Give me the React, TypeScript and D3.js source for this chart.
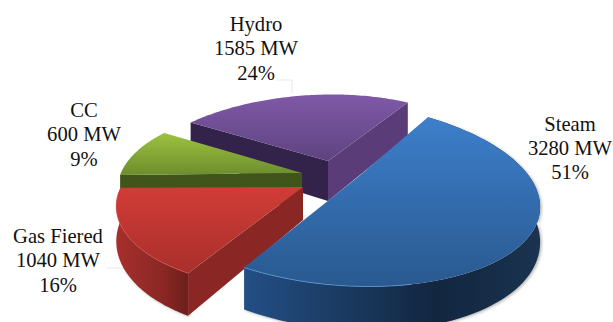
import * as d3 from "d3";

// Installed capacity by plant type, clockwise from the steam slice
const categories = ["Steam", "Gas Fiered", "CC", "Hydro"];
const capacityMW = [3280, 1040, 600, 1585];
const shareLabels = ["51%", "16%", "9%", "24%"];

const WIDTH = 613;
const HEIGHT = 322;
const START_DEG = 27.6;
// Perspective terms shared by every slice of the tilted disc
const PERSPECTIVE_V = 0.2;
const PERSPECTIVE_U = 0.08;

type Look = {
  apex: [number, number]; rotate: number; rx: number; ry: number; shear: number; extraDepth: number;
  top: [string, string]; wall: string[] | null;
  startFace: string; endFace: string; rim: string; rimMaxX: number;
};

const looks: Record<string, Look> = {
  Steam: { apex: [358, 177], rotate: -1.5, rx: 193, ry: 87.5, shear: 13.9, extraDepth: 0, top: ["#3d7fcb", "#29598f"], wall: ["#234f85", "#12263f", "#1a3350"], startFace: "none", endFace: "none", rim: "#5b9ad8", rimMaxX: 420 },
  "Gas Fiered": { apex: [303, 187], rotate: 3.5, rx: 168, ry: 80, shear: -1, extraDepth: 0, top: ["#d13c37", "#a92f2b"], wall: ["#a72f2c", "#8a2724", "#6c1f1b"], startFace: "#8a2724", endFace: "none", rim: "#d9534c", rimMaxX: 400 },
  CC: { apex: [302, 173], rotate: 1, rx: 166, ry: 78.4, shear: 1.4, extraDepth: 0, top: ["#9cc23f", "#6d8d2d"], wall: null, startFace: "#41541a", endFace: "none", rim: "none", rimMaxX: 0 },
  Hydro: { apex: [328, 161], rotate: 5.5, rx: 177, ry: 79.8, shear: -7.2, extraDepth: 10, top: ["#7f59a8", "#5e437f"], wall: null, startFace: "#33234a", endFace: "#5a3d78", rim: "none", rimMaxX: 0 },
};

// Label blocks: centre x and first baseline
const labelPos: Record<string, [number, number]> = {
  Steam: [570, 130.5],
  "Gas Fiered": [58, 243],
  CC: [84, 117],
  Hydro: [256, 31],
};

const PAINT_ORDER = ["Hydro", "CC", "Gas Fiered", "Steam"];
const toRad = Math.PI / 180;

// Homography of a ground-plane rim point onto the page for one slice
function project(look: Look, theta: number): [number, number] {
  const u = Math.sin(theta);
  const v = Math.cos(theta);
  const s = 1 / (1 + PERSPECTIVE_V * v + PERSPECTIVE_U * u);
  return [
    look.apex[0] + look.rx * u * s,
    look.apex[1] + (-look.ry * v + look.shear * u) * s,
  ];
}

const drop = (p: [number, number], amount: number): [number, number] => [p[0], p[1] + amount];
const depthScale = d3.scaleLinear().domain([187, 267]).range([33, 42]);

const pie = d3.pie<number>().sort(null).startAngle(START_DEG * toRad).endAngle((START_DEG + 360) * toRad);
const line = d3.line<[number, number]>();

export default function App() {
  const arcs = pie(capacityMW);
  const slices = categories.map((name, i) => {
    const look = looks[name];
    const a0 = arcs[i].startAngle + look.rotate * toRad;
    const a1 = arcs[i].endAngle + look.rotate * toRad;
    const steps = d3.range(0, 81).map((t) => a0 + ((a1 - a0) * t) / 80);
    const rim = steps.map((a) => project(look, a));
    const depth = (y: number) => depthScale(y) + look.extraDepth;
    const lower = rim.map((p) => drop(p, depth(p[1])));
    const apexLow = drop(look.apex, depth(look.apex[1]));
    const xs = d3.extent(rim, (p) => p[0]) as [number, number];
    const ys = d3.extent(rim.concat([look.apex]), (p) => p[1]) as [number, number];
    return { name, look, rim, lower, apexLow, xs, ys, i, depth };
  });
  const byName = (n: string) => slices.find((s) => s.name === n)!;
  const steam = byName("Steam");
  const chordAt = d3.interpolateArray(steam.rim[0], steam.rim[steam.rim.length - 1]) as unknown as (t: number) => [number, number];

  return (
    <svg width={WIDTH} height={HEIGHT} style={{ position: "absolute", left: 0, top: 0, background: "#fff" }} fontFamily="'Liberation Serif', serif">
      <defs>
        <filter id="soft" x="-10%" y="-10%" width="120%" height="120%">
          <feGaussianBlur stdDeviation="1.6" />
        </filter>
        {slices.map((s) => (
          <g key={s.name}>
            <linearGradient id={`top${s.i}`} gradientUnits="userSpaceOnUse" x1={0} x2={0} y1={s.ys[0]} y2={s.ys[1]}>
              <stop offset="0" stopColor={s.look.top[0]} />
              <stop offset="1" stopColor={s.look.top[1]} />
            </linearGradient>
            {s.look.wall && (
              <linearGradient id={`wall${s.i}`} gradientUnits="userSpaceOnUse" x1={s.xs[0]} x2={s.xs[1]} y1={0} y2={0}>
                <stop offset="0" stopColor={s.look.wall[0]} />
                <stop offset="0.65" stopColor={s.look.wall[1]} />
                <stop offset="1" stopColor={s.look.wall[2]} />
              </linearGradient>
            )}
          </g>
        ))}
      </defs>

      {/* Faint leader lines from labels to slices */}
      <path d="M277 80H292V93" fill="none" stroke="#e8e8e8" strokeWidth={1} />
      <path d="M106 268H130" fill="none" stroke="#e8e8e8" strokeWidth={1} />

      {PAINT_ORDER.map((n) => {
        const s = byName(n);
        const first = s.rim[0];
        const last = s.rim[s.rim.length - 1];
        const wallPath = line(s.rim.concat(s.lower.slice().reverse()))! + "Z";
        const highlight = s.rim.filter((p) => p[1] > s.look.apex[1] + 5 && p[0] < s.look.rimMaxX);
        return (
          <g key={n}>
            {s.look.wall && (
              <path d={wallPath} fill="#777" opacity={0.55} filter="url(#soft)" transform="translate(1.5,1)" />
            )}
            {s.look.endFace !== "none" && (
              <path d={line([s.look.apex, last, drop(last, s.depth(last[1])), s.apexLow])! + "Z"} fill={s.look.endFace} />
            )}
            {s.look.startFace !== "none" && (
              <path d={line([s.look.apex, first, drop(first, s.depth(first[1])), s.apexLow])! + "Z"} fill={s.look.startFace} />
            )}
            {s.look.wall && <path d={wallPath} fill={`url(#wall${s.i})`} />}
            <path d={line([s.look.apex, ...s.rim])! + "Z"} fill={`url(#top${s.i})`} />
            {s.look.rim !== "none" && (
              <path d={line(highlight)!} fill="none" stroke={s.look.rim} strokeWidth={1} opacity={0.75} />
            )}
          </g>
        );
      })}

      {/* Light seam where the steam slice meets the hydro wall */}
      <path d={line([chordAt(0.13), chordAt(0.53)])!} fill="none" stroke="#b5b5b5" strokeWidth={1.2} />

      {categories.map((name, i) => {
        const [x, y] = labelPos[name];
        return (
          <text key={name} x={x} y={y} textAnchor="middle" fontSize={20.6} fill="#111">
            <tspan x={x}>{name}</tspan>
            <tspan x={x} dy={24.4}>{`${capacityMW[i]} MW`}</tspan>
            <tspan x={x} dy={24.4}>{shareLabels[i]}</tspan>
          </text>
        );
      })}
    </svg>
  );
}
